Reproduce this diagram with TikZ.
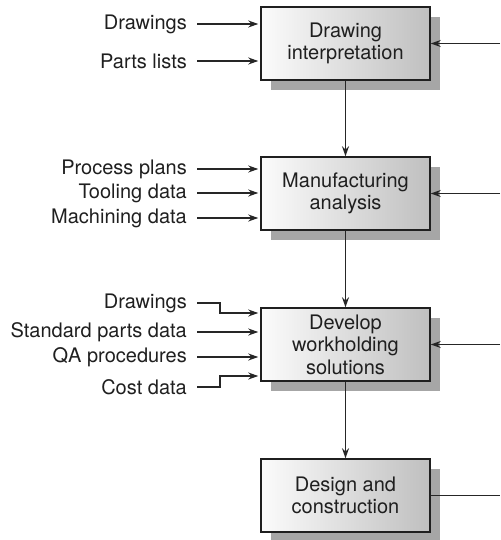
\documentclass[tikz,border=0pt]{standalone}
\usepackage{fontspec}
\setmainfont{TeX Gyre Heros}
\usetikzlibrary{arrows.meta,shadows}
\begin{document}
\begin{tikzpicture}[
  x=1pt, y=-1pt,
  font=\fontsize{20}{22.5}\selectfont,
  every node/.style={text=black!88},
  arr/.style={-{Stealth[length=10pt,width=7pt]}, line width=1.3pt, black!85},
  line/.style={line width=1.3pt, black!85},
  stage/.style={draw=black!88, line width=1.5pt, minimum width=169pt, minimum height=73pt,
    align=center, left color=gray!3, right color=gray!50,
    drop shadow={shadow xshift=10pt, shadow yshift=-10pt, fill=gray!70, opacity=1}},
  inlabel/.style={anchor=east, inner sep=0pt}
]
  \useasboundingbox (0,0) rectangle (500,540);

  % stages
  \node[stage] (interp) at (345.5,43.5) {Drawing\\interpretation};
  \node[stage] (manuf) at (345.5,193.5) {Manufacturing\\analysis};
  \node[stage] (devel) at (345.5,344.5) {Develop\\workholding\\solutions};
  \node[stage] (design) at (345.5,495.5) {Design and\\construction};

  % inputs
  \node[inlabel] (drw1) at (187,24) {Drawings};
  \node[inlabel] (parts) at (187,61) {Parts lists};
  \node[inlabel] (plans) at (187,169) {Process plans};
  \node[inlabel] (tool) at (187,193) {Tooling data};
  \node[inlabel] (mach) at (187,218) {Machining data};
  \node[inlabel] (drw2) at (187,303) {Drawings};
  \node[inlabel] (std) at (187,332) {Standard parts data};
  \node[inlabel] (qa) at (187,357) {QA procedures};
  \node[inlabel] (cost) at (187,387) {Cost data};

  \foreach \src/\dst in {drw1/interp, parts/interp, plans/manuf, tool/manuf,
      mach/manuf, std/devel, qa/devel}
    \draw[arr, shorten <=10pt, shorten >=2pt] (\src.east) -- (\src.east -| \dst.west);
  \draw[arr, shorten <=10pt, shorten >=2pt] (drw2.east) -- ++(33,0) |- (devel.west |- 0,313);
  \draw[arr, shorten <=10pt, shorten >=2pt] (cost.east) -- ++(33,0) |- (devel.west |- 0,376);

  % flow down
  \draw[arr] (interp.south) -- (manuf.north);
  \draw[arr] (manuf.south) -- (devel.north);
  \draw[arr] (devel.south) -- (design.north);

  % feedback from the right
  \coordinate (fb1) at (500,43.5);
  \coordinate (fb2) at (500,193.5);
  \coordinate (fb3) at (500,344.5);
  \coordinate (fb4) at (500,495.5);
  \draw[arr] (fb1) -- (interp.east);
  \draw[arr] (fb2) -- (manuf.east);
  \draw[arr] (fb3) -- (devel.east);
  \draw[line] (design.east) -- (fb4);
\end{tikzpicture}
\end{document}
